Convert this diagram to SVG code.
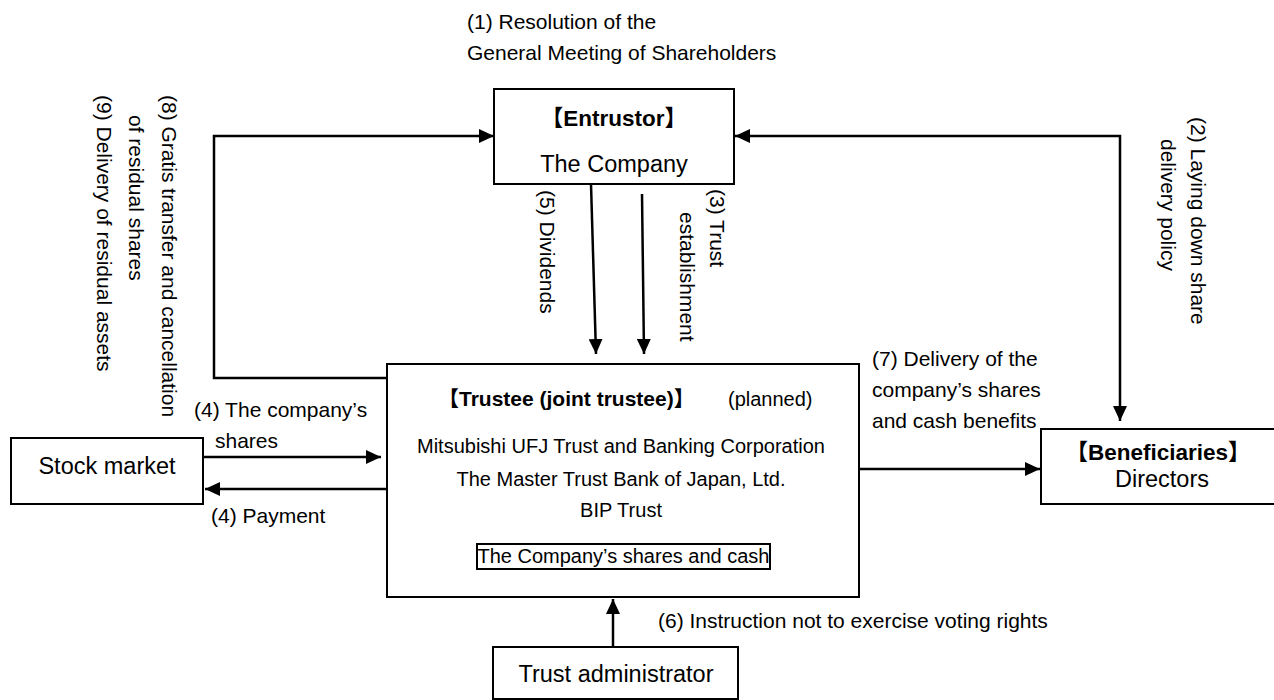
<svg xmlns="http://www.w3.org/2000/svg" width="1274" height="700" viewBox="0 0 1274 700">
<style>
text{font-family:"Liberation Sans","Noto Sans CJK JP",Arial,sans-serif;fill:#000}
.a{font-size:21px}
.n{font-size:23.5px}
.b{font-size:20px}
.t{font-size:22.5px;font-weight:bold}
.box{fill:#fff;stroke:#000;stroke-width:2}
.c{fill:none;stroke:#000;stroke-width:2.5}
</style>
<defs>
<marker id="ah" markerUnits="userSpaceOnUse" markerWidth="15" markerHeight="14" refX="15" refY="7" orient="auto-start-reverse">
<path d="M0,0 L15,7 L0,14 Z" fill="#000"/>
</marker>
</defs>
<g id="connectors">
<polyline class="c" points="387,378 214,378 214,136 494,136" marker-end="url(#ah)"/>
<polyline class="c" points="735,136 1120,136 1120,421" marker-start="url(#ah)" marker-end="url(#ah)"/>
<line class="c" x1="591" y1="184" x2="596" y2="354" marker-end="url(#ah)"/>
<line class="c" x1="642" y1="194" x2="644" y2="354" marker-end="url(#ah)"/>
<line class="c" x1="203" y1="457" x2="381" y2="457" marker-end="url(#ah)"/>
<line class="c" x1="387" y1="489" x2="205" y2="489" marker-end="url(#ah)"/>
<line class="c" x1="859" y1="469" x2="1040" y2="469" marker-end="url(#ah)"/>
<line class="c" x1="613" y1="647" x2="613" y2="599" marker-end="url(#ah)"/>
</g>
<g id="labels">
<text class="a" x="467" y="29">(1) Resolution of the</text>
<text class="a" x="467" y="60">General Meeting of Shareholders</text>
<text class="a" transform="translate(162,95) rotate(90)">(8) Gratis transfer and cancellation</text>
<text class="a" transform="translate(129,115) rotate(90)">of residual shares</text>
<text class="a" transform="translate(97,95) rotate(90)">(9) Delivery of residual assets</text>
<text class="a" transform="translate(540,190) rotate(90)">(5) Dividends</text>
<text class="a" transform="translate(710,189) rotate(90)">(3) Trust</text>
<text class="a" transform="translate(680,212) rotate(90)">establishment</text>
<text class="a" transform="translate(1191,117) rotate(90)">(2) Laying down share</text>
<text class="a" transform="translate(1161,139) rotate(90)">delivery policy</text>
<text class="a" x="194" y="417">(4) The company’s</text>
<text class="a" x="215" y="448">shares</text>
<text class="a" x="211" y="523">(4) Payment</text>
<text class="a" x="872" y="366">(7) Delivery of the</text>
<text class="a" x="872" y="397">company’s shares</text>
<text class="a" x="872" y="428">and cash benefits</text>
<text class="a" x="658" y="628">(6) Instruction not to exercise voting rights</text>
</g>
<g id="entrustor">
<rect class="box" x="494" y="89" width="240" height="95"/>
<text class="t" x="614" y="126" text-anchor="middle">【Entrustor】</text>
<text class="n" x="614" y="172" text-anchor="middle">The Company</text>
</g>
<g id="trustee">
<rect class="box" x="387" y="364" width="472" height="233"/>
<text style="font-size:21px;font-weight:bold" x="438" y="406">【Trustee (joint trustee)】</text>
<text class="b" x="728" y="406">(planned)</text>
<text class="b" x="621" y="453" text-anchor="middle">Mitsubishi UFJ Trust and Banking Corporation</text>
<text class="b" x="621" y="486" text-anchor="middle">The Master Trust Bank of Japan, Ltd.</text>
<text class="b" x="621" y="517" text-anchor="middle">BIP Trust</text>
<rect class="box" x="477" y="544" width="293" height="25"/>
<text class="b" x="623.5" y="563" text-anchor="middle">The Company’s shares and cash</text>
</g>
<g id="stock-market">
<rect class="box" x="11" y="438" width="192" height="66"/>
<text class="n" x="107" y="474" text-anchor="middle">Stock market</text>
</g>
<g id="beneficiaries">
<rect class="box" x="1041" y="429" width="238" height="75"/>
<text class="t" x="1158" y="460" text-anchor="middle">【Beneficiaries】</text>
<text class="n" x="1162" y="487" text-anchor="middle">Directors</text>
</g>
<g id="trust-administrator">
<rect class="box" x="493" y="647" width="245" height="52"/>
<text class="n" x="616" y="682" text-anchor="middle">Trust administrator</text>
</g>
</svg>
